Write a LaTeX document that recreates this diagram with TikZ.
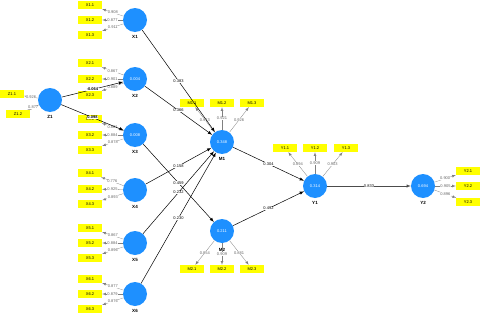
\documentclass[tikz,border=0pt]{standalone}
\usepackage{fontspec}
\setmainfont{Liberation Sans}
\usetikzlibrary{arrows}
\definecolor{lvblue}{RGB}{30,144,255}
\definecolor{mvyellow}{RGB}{255,255,0}
\begin{document}
\begin{tikzpicture}[x=1pt, y=-1pt, font=\fontsize{4}{4.5}\selectfont]
    \tikzstyle{latent} = [circle, fill=lvblue, minimum size=24pt, inner sep=0pt, text=white,
                          label distance=4pt]
    \tikzstyle{item} = [rectangle, fill=mvyellow, minimum width=24pt, minimum height=8pt, inner sep=0pt]
    \tikzstyle{lvname} = [font=\fontsize{4.5}{5}\selectfont\bfseries]
    \tikzstyle{line} = [draw, -latex, line width=0.5pt]
    \tikzstyle{load} = [draw, -latex, gray, line width=0.3pt]
    \tikzstyle{coef} = [fill=white, inner sep=0.4pt, text=black]
    \tikzstyle{lval} = [fill=white, inner sep=0.3pt, text=black!60]

    \useasboundingbox (0,0) rectangle (480,316);

    % latent variables
    \node [latent, label={[lvname]below:Z1}] (Z1) at (50,100) {};
    \node [latent, label={[lvname]below:X1}] (X1) at (135,20) {};
    \node [latent, label={[lvname]below:X2}] (X2) at (135,79) {0.004};
    \node [latent, label={[lvname]below:X3}] (X3) at (135,135) {0.008};
    \node [latent, label={[lvname]below:X4}] (X4) at (135,190) {};
    \node [latent, label={[lvname]below:X5}] (X5) at (135,243) {};
    \node [latent, label={[lvname]below:X6}] (X6) at (135,294) {};
    \node [latent, label={[lvname]below:M1}] (M1) at (222,142) {0.348};
    \node [latent, label={[lvname,label distance=2pt]below:M2}] (M2) at (222,231) {0.211};
    \node [latent, label={[lvname]below:Y1}] (Y1) at (315,186) {0.314};
    \node [latent, label={[lvname]below:Y2}] (Y2) at (423,186) {0.694};

    % indicators
    \node [item] (Z11) at (12,94) {Z1.1};
    \node [item] (Z12) at (18,114) {Z1.2};
    \node [item] (X11) at (90,5) {X1.1};
    \node [item] (X12) at (90,20) {X1.2};
    \node [item] (X13) at (90,35) {X1.3};
    \node [item] (X21) at (90,63) {X2.1};
    \node [item] (X22) at (90,79) {X2.2};
    \node [item] (X23) at (90,95) {X2.3};
    \node [item] (X31) at (90,119) {X3.1};
    \node [item] (X32) at (90,135) {X3.2};
    \node [item] (X33) at (90,150) {X3.3};
    \node [item] (X41) at (90,173) {X4.1};
    \node [item] (X42) at (90,189) {X4.2};
    \node [item] (X43) at (90,204) {X4.3};
    \node [item] (X51) at (90,228) {X5.1};
    \node [item] (X52) at (90,243) {X5.2};
    \node [item] (X53) at (90,258) {X5.3};
    \node [item] (X61) at (90,279) {X6.1};
    \node [item] (X62) at (90,294) {X6.2};
    \node [item] (X63) at (90,309) {X6.3};
    \node [item] (M11) at (192,103) {M1.1};
    \node [item] (M12) at (222,103) {M1.2};
    \node [item] (M13) at (252,103) {M1.3};
    \node [item] (M21) at (192,269) {M2.1};
    \node [item] (M22) at (222,269) {M2.2};
    \node [item] (M23) at (252,269) {M2.3};
    \node [item] (Y11) at (285,148) {Y1.1};
    \node [item] (Y12) at (315,148) {Y1.2};
    \node [item] (Y13) at (346,148) {Y1.3};
    \node [item] (Y21) at (468,171) {Y2.1};
    \node [item] (Y22) at (468,186) {Y2.2};
    \node [item] (Y23) at (468,202) {Y2.3};

    % outer loadings
    \draw [load] (Z1) -- node [lval] {0.926} (Z11);
    \draw [load] (Z1) -- node [lval] {0.877} (Z12);
    \draw [load] (X1) -- node [lval] {0.908} (X11);
    \draw [load] (X1) -- node [lval] {0.877} (X12);
    \draw [load] (X1) -- node [lval] {0.911} (X13);
    \draw [load] (X2) -- node [lval] {0.867} (X21);
    \draw [load] (X2) -- node [lval] {0.901} (X22);
    \draw [load] (X2) -- node [lval] {0.889} (X23);
    \draw [load] (X3) -- node [lval] {0.881} (X31);
    \draw [load] (X3) -- node [lval] {0.884} (X32);
    \draw [load] (X3) -- node [lval] {0.878} (X33);
    \draw [load] (X4) -- node [lval] {0.776} (X41);
    \draw [load] (X4) -- node [lval] {0.925} (X42);
    \draw [load] (X4) -- node [lval] {0.893} (X43);
    \draw [load] (X5) -- node [lval] {0.867} (X51);
    \draw [load] (X5) -- node [lval] {0.884} (X52);
    \draw [load] (X5) -- node [lval] {0.896} (X53);
    \draw [load] (X6) -- node [lval] {0.877} (X61);
    \draw [load] (X6) -- node [lval] {0.879} (X62);
    \draw [load] (X6) -- node [lval] {0.876} (X63);
    \draw [load] (M1) -- node [lval] {0.913} (M11);
    \draw [load] (M1) -- node [lval] {0.921} (M12);
    \draw [load] (M1) -- node [lval] {0.926} (M13);
    \draw [load] (M2) -- node [lval] {0.854} (M21);
    \draw [load] (M2) -- node [lval] {0.909} (M22);
    \draw [load] (M2) -- node [lval] {0.881} (M23);
    \draw [load] (Y1) -- node [lval] {0.894} (Y11);
    \draw [load] (Y1) -- node [lval] {0.909} (Y12);
    \draw [load] (Y1) -- node [lval] {0.903} (Y13);
    \draw [load] (Y2) -- node [lval] {0.900} (Y21);
    \draw [load] (Y2) -- node [lval] {0.905} (Y22);
    \draw [load] (Y2) -- node [lval] {0.896} (Y23);

    % path coefficients
    \draw [line] (Z1) -- node [coef, font=\fontsize{4}{4.5}\selectfont\bfseries] {-0.064} (X2);
    \draw [line] (Z1) -- node [coef, font=\fontsize{4}{4.5}\selectfont\bfseries] {0.098} (X3);
    \draw [line] (X1) -- node [coef] {0.383} (M1);
    \draw [line] (X2) -- node [coef] {0.366} (M1);
    \draw [line] (X4) -- node [coef] {0.158} (M1);
    \draw [line] (X5) -- node [coef] {0.232} (M1);
    \draw [line] (X6) -- node [coef] {0.230} (M1);
    \draw [line] (X3) -- node [coef] {0.459} (M2);
    \draw [line] (M1) -- node [coef] {0.304} (Y1);
    \draw [line] (M2) -- node [coef] {0.492} (Y1);
    \draw [line, black!70] (Y1) -- node [coef] {0.833} (Y2);
\end{tikzpicture}
\end{document}
